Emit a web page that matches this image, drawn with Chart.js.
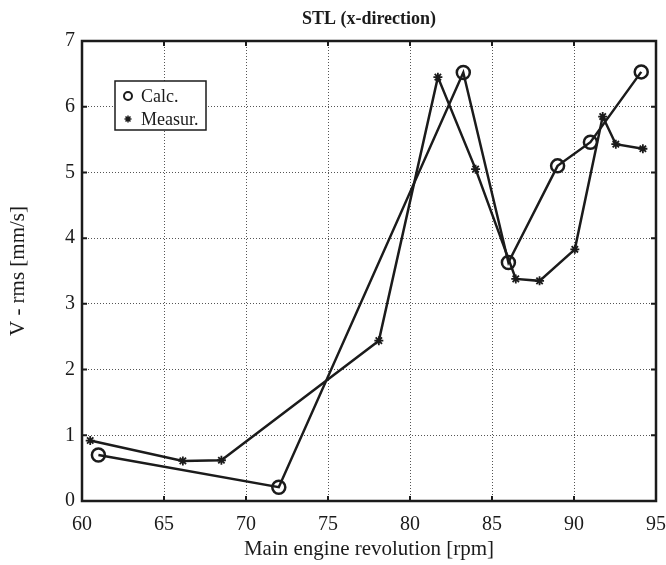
<!DOCTYPE html>
<html>
<head>
<meta charset="utf-8">
<script src="https://cdn.jsdelivr.net/npm/chart.js@4.4.1/dist/chart.umd.min.js"></script>
<style>
  html, body { margin: 0; padding: 0; background: #fff; }
  #wrap { width: 666px; height: 565px; }
</style>
</head>
<body>
<div id="wrap"><canvas id="stlChart" width="666" height="565"></canvas></div>
<script>
const calcRpm = [61.0, 72.0, 83.25, 86.0, 89.0, 91.0, 94.1];
const calcVrms = [0.70, 0.21, 6.52, 3.63, 5.10, 5.46, 6.53];
const measRpm = [60.5, 66.15, 68.5, 78.1, 81.7, 84.0, 86.45, 87.9, 90.05, 91.75, 92.55, 94.2];
const measVrms = [0.92, 0.61, 0.62, 2.44, 6.45, 5.05, 3.38, 3.35, 3.83, 5.85, 5.43, 5.36];
const xTicks = [60, 65, 70, 75, 80, 85, 90, 95];
const yTicks = [0, 1, 2, 3, 4, 5, 6, 7];
const seriesNames = ['Calc.', 'Measur.'];

const serif = '"Liberation Serif", "Times New Roman", serif';
const ink = '#1b1b1b';

function toPoints(xs, ys) {
  return xs.map((x, i) => ({ x: x, y: ys[i] }));
}

// box round the plot and inward tick marks, matlab style
const framePlugin = {
  id: 'frame',
  beforeDatasetsDraw(chart) {
    const { ctx, chartArea: a, scales } = chart;
    ctx.save();
    ctx.strokeStyle = ink;
    ctx.lineWidth = 2;
    const len = 5;
    xTicks.forEach(v => {
      const px = scales.x.getPixelForValue(v);
      ctx.beginPath();
      ctx.moveTo(px, a.bottom); ctx.lineTo(px, a.bottom - len);
      ctx.moveTo(px, a.top); ctx.lineTo(px, a.top + len);
      ctx.stroke();
    });
    yTicks.forEach(v => {
      const py = scales.y.getPixelForValue(v);
      ctx.beginPath();
      ctx.moveTo(a.left, py); ctx.lineTo(a.left + len, py);
      ctx.moveTo(a.right, py); ctx.lineTo(a.right - len, py);
      ctx.stroke();
    });
    ctx.lineWidth = 2.5;
    ctx.strokeRect(a.left, a.top, a.right - a.left, a.bottom - a.top);
    ctx.restore();
  },
  afterDraw(chart) {
    const { ctx, chartArea: a } = chart;
    ctx.save();
    // title
    ctx.fillStyle = ink;
    ctx.font = 'bold 18px ' + serif;
    ctx.textAlign = 'center';
    ctx.textBaseline = 'middle';
    ctx.fillText('STL (x-direction)', (a.left + a.right) / 2, 19);

    // legend box
    const bx = a.left + 33, by = a.top + 40, bw = 91, bh = 49;
    ctx.fillStyle = '#fff';
    ctx.fillRect(bx, by, bw, bh);
    ctx.strokeStyle = ink;
    ctx.lineWidth = 1.5;
    ctx.strokeRect(bx, by, bw, bh);
    const rows = [by + 15, by + 38];
    ctx.fillStyle = 'rgba(0,0,0,0)';
    ctx.lineWidth = 2;
    Chart.helpers.drawPoint(ctx, { pointStyle: 'circle', radius: 4, borderWidth: 2 }, bx + 13, rows[0]);
    ctx.lineWidth = 1.5;
    Chart.helpers.drawPoint(ctx, { pointStyle: 'star', radius: 3.5, borderWidth: 1.5 }, bx + 13, rows[1]);
    ctx.font = '18px ' + serif;
    ctx.textAlign = 'left';
    ctx.fillStyle = ink;
    ctx.fillText(seriesNames[0], bx + 26, rows[0] + 1);
    ctx.fillText(seriesNames[1], bx + 26, rows[1] + 1);
    ctx.restore();
  }
};

new Chart(document.getElementById('stlChart'), {
  type: 'scatter',
  data: {
    datasets: [
      {
        label: seriesNames[0],
        data: toPoints(calcRpm, calcVrms),
        showLine: true,
        borderColor: ink,
        backgroundColor: 'transparent',
        borderWidth: 2.5,
        pointStyle: 'circle',
        pointRadius: 6.5,
        pointBorderWidth: 2.5,
        pointBorderColor: ink,
        pointBackgroundColor: 'transparent',
        clip: false
      },
      {
        label: seriesNames[1],
        data: toPoints(measRpm, measVrms),
        showLine: true,
        borderColor: ink,
        backgroundColor: 'transparent',
        borderWidth: 2.5,
        pointStyle: 'star',
        pointRadius: 4.5,
        pointBorderWidth: 1.8,
        pointBorderColor: ink,
        pointBackgroundColor: 'transparent',
        clip: false
      }
    ]
  },
  options: {
    responsive: false,
    animation: false,
    layout: { padding: { left: 0, right: 10, top: 41, bottom: 0 } },
    plugins: {
      legend: { display: false },
      title: { display: false },
      tooltip: { enabled: false }
    },
    scales: {
      x: {
        type: 'linear',
        min: 60,
        max: 95,
        afterFit: scale => {
          scale.height = 64;
          scale.paddingLeft = 0;
          scale.paddingRight = 0;
        },
        afterBuildTicks: scale => { scale.ticks = xTicks.map(v => ({ value: v })); },
        grid: { color: '#555', lineWidth: 1, drawTicks: false },
        border: { display: false, dash: [1, 2] },
        ticks: { color: ink, padding: 12, font: { family: serif, size: 20 }, maxRotation: 0 },
        title: {
          display: true,
          text: 'Main engine revolution [rpm]',
          color: ink,
          font: { family: serif, size: 21 },
          padding: { top: 0, bottom: 3 }
        }
      },
      y: {
        type: 'linear',
        min: 0,
        max: 7,
        afterFit: scale => {
          scale.width = 82;
          scale.paddingTop = 0;
          scale.paddingBottom = 0;
        },
        afterBuildTicks: scale => { scale.ticks = yTicks.map(v => ({ value: v })); },
        grid: { color: '#555', lineWidth: 1, drawTicks: false },
        border: { display: false, dash: [1, 2] },
        ticks: { color: ink, padding: 7, font: { family: serif, size: 20 } },
        title: {
          display: true,
          text: 'V - rms [mm/s]',
          color: ink,
          font: { family: serif, size: 21 },
          padding: { top: 6, bottom: 0 }
        }
      }
    }
  },
  plugins: [framePlugin]
});
</script>
</body>
</html>
